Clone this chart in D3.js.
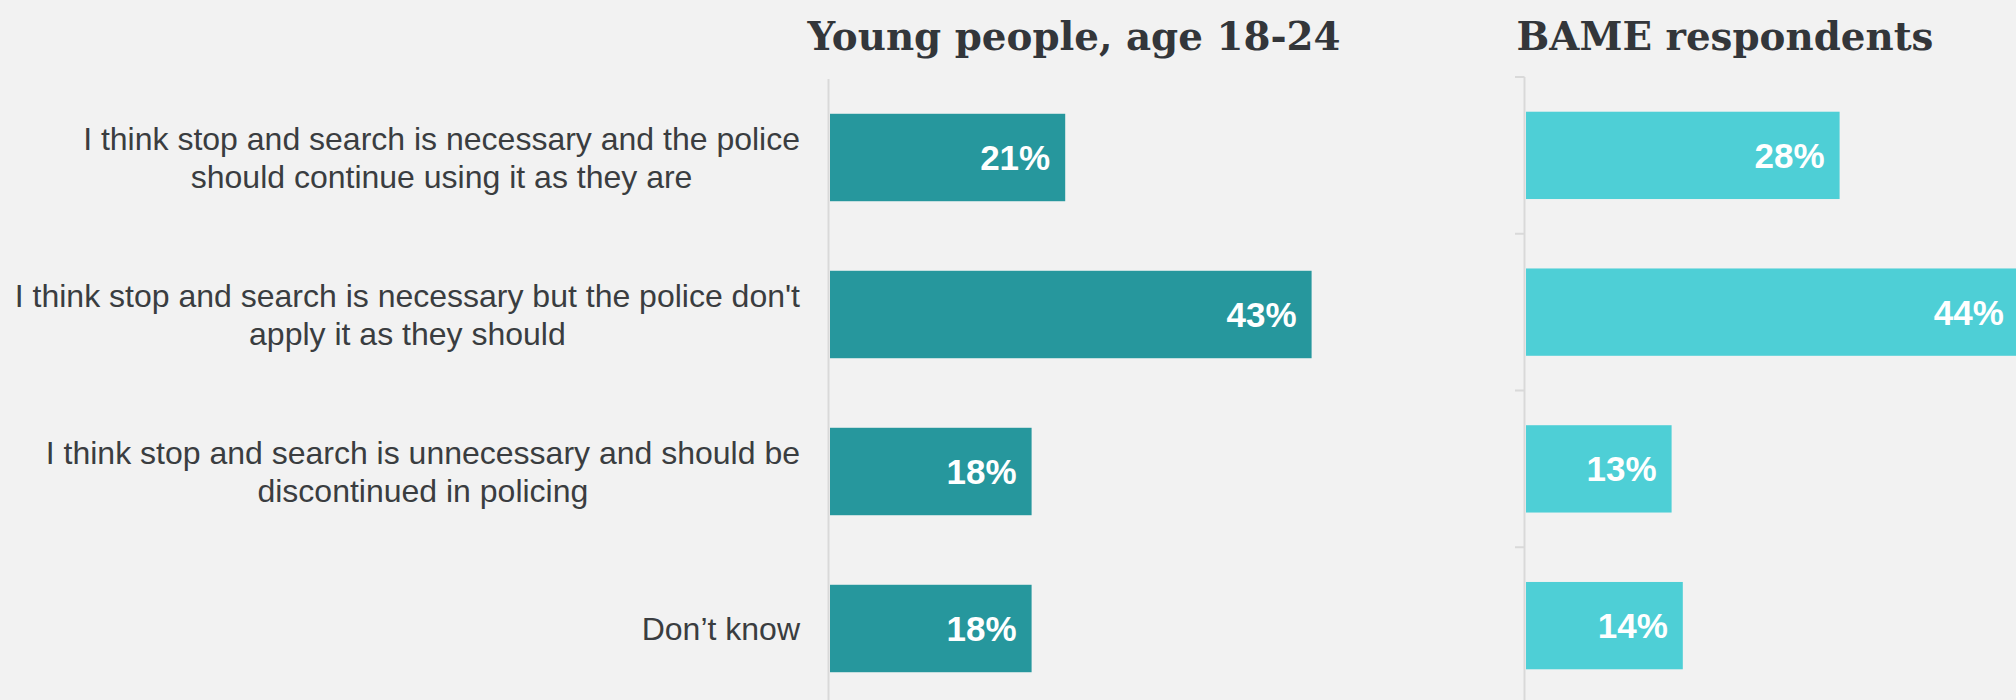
<!DOCTYPE html>
<html>
<head>
<meta charset="utf-8">
<script src="https://cdn.jsdelivr.net/npm/d3@7"></script>
<style>
  html, body { margin: 0; padding: 0; background: #F2F2F2; overflow: hidden; }
  svg { display: block; }
</style>
</head>
<body>
<script>
// ---- data ----
const categories = [
  ["I think stop and search is necessary and the police", "should continue using it as they are"],
  ["I think stop and search is necessary but the police don't", "apply it as they should"],
  ["I think stop and search is unnecessary and should be", "discontinued in policing"],
  ["Don\u2019t know"]
];
const categoryKeys = ["continue", "misapplied", "discontinue", "dontknow"];
const youngValues = [21, 43, 18, 18];
const bameValues = [28, 44, 13, 14];
const youngTitle = "Young people, age 18-24";
const bameTitle = "BAME respondents";

// ---- layout ----
const W = 2016, H = 700;
const svg = d3.select("body").append("svg").attr("width", W).attr("height", H);
svg.append("rect").attr("width", W).attr("height", H).attr("fill", "#F2F2F2");

const labelFont = "'Liberation Sans', Arial, sans-serif";
const titleFont = "'DejaVu Serif', Georgia, serif";

function panel(opts) {
  const y = d3.scaleBand().domain(categoryKeys).range(opts.yRange)
    .paddingInner(0.443).paddingOuter(0.2215);
  const x = d3.scaleLinear().domain([0, 50]).range([opts.x0, opts.x0 + 560]);
  const g = svg.append("g");

  g.append("line")
    .attr("x1", x(0) - 1.5).attr("x2", x(0) - 1.5)
    .attr("y1", opts.yRange[0]).attr("y2", H + 10)
    .attr("stroke", "#D9D9D9").attr("stroke-width", 2);

  if (opts.ticks) {
    const half = y.step() * y.paddingInner() / 2;
    const tickYs = categoryKeys.map(k => y(k) - half).concat([y(categoryKeys[categoryKeys.length-1]) + y.bandwidth() + half]);
    g.selectAll("line.tick").data(tickYs).join("line").attr("class", "tick")
      .attr("x1", x(0) - 11).attr("x2", x(0) - 1.5)
      .attr("y1", d => d).attr("y2", d => d)
      .attr("stroke", "#D9D9D9").attr("stroke-width", 2);
  }

  g.selectAll("rect.bar").data(opts.values).join("rect").attr("class", "bar")
    .attr("x", x(0))
    .attr("y", (d, i) => y(categoryKeys[i]))
    .attr("width", d => x(d) - x(0))
    .attr("height", y.bandwidth())
    .attr("fill", opts.color);

  g.selectAll("text.val").data(opts.values).join("text").attr("class", "val")
    .attr("x", d => x(d) - 15)
    .attr("y", (d, i) => y(categoryKeys[i]) + y.bandwidth() / 2)
    .attr("dy", "0.36em")
    .attr("text-anchor", "end")
    .attr("font-family", labelFont).attr("font-weight", "bold")
    .attr("font-size", 35).attr("fill", "#FFFFFF")
    .text(d => d + "%");

  svg.append("text")
    .attr("x", opts.titleX).attr("y", 50)
    .attr("text-anchor", "middle")
    .attr("font-family", titleFont).attr("font-weight", "bold")
    .attr("font-size", 38.8).attr("fill", "#33363A")
    .text(opts.title);

  return y;
}

const yLeft = panel({ x0: 830, yRange: [79, 707], values: youngValues, color: "#26979D", title: youngTitle, titleX: 1074, ticks: false });
panel({ x0: 1526, yRange: [77, 704], values: bameValues, color: "#4ECFD6", title: bameTitle, titleX: 1725, ticks: true });

// category labels: block right-aligned at labelRight, lines centred within block
const labelRight = 800;
const lineH = 38.5;
const lab = svg.append("g");
categories.forEach((lines, i) => {
  const cy = yLeft(categoryKeys[i]) + yLeft.bandwidth() / 2;
  const t = lab.append("text")
    .attr("text-anchor", "middle")
    .attr("font-family", labelFont).attr("font-size", 32)
    .attr("fill", "#3A3D40");
  const spans = lines.map((ln, j) => t.append("tspan")
    .attr("y", cy + (j - (lines.length - 1) / 2) * lineH)
    .attr("dy", "0.36em")
    .text(ln));
  const maxW = d3.max(spans, s => s.node().getComputedTextLength());
  spans.forEach(s => s.attr("x", labelRight - maxW / 2));
});
</script>
</body>
</html>
